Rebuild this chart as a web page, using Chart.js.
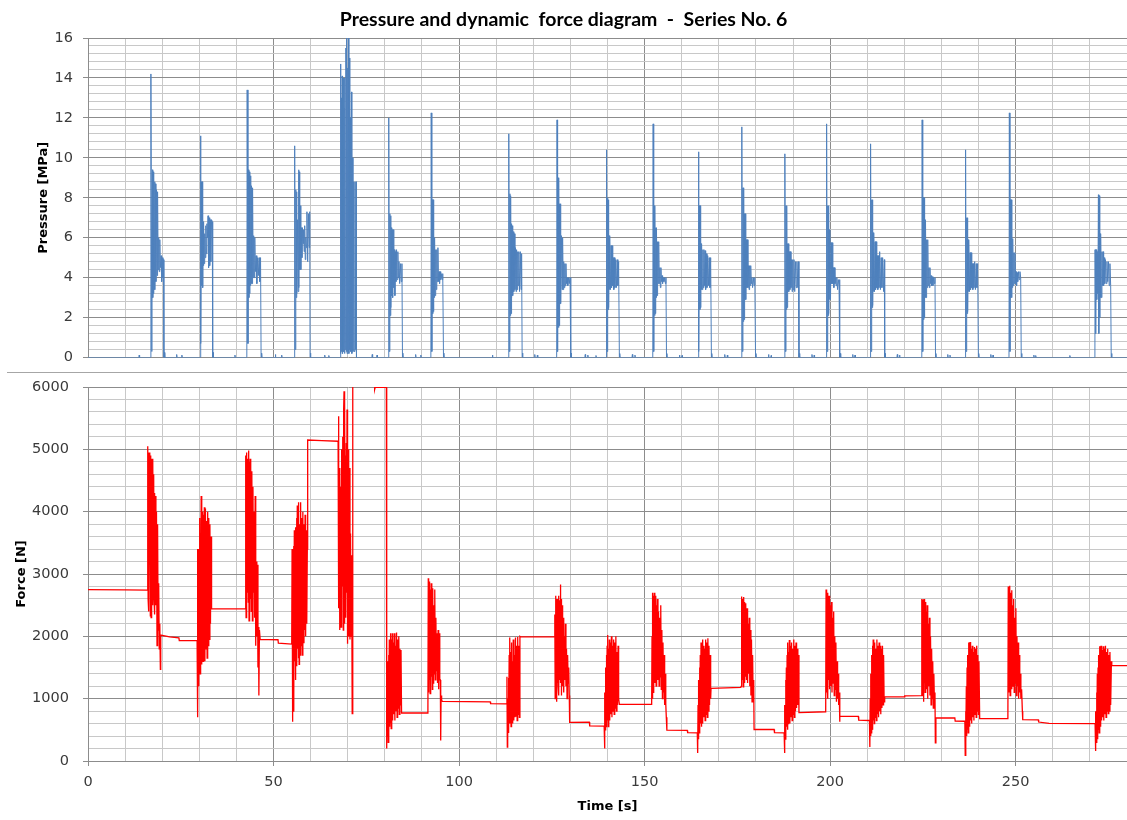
<!DOCTYPE html>
<html>
<head>
<meta charset="utf-8">
<title>Pressure and dynamic force diagram</title>
<script src="https://cdn.jsdelivr.net/npm/chart.js@4.4.1/dist/chart.umd.min.js"></script>
<style>
  html, body { margin: 0; padding: 0; background: #fff; }
  #page { position: relative; width: 1127px; height: 820px; overflow: hidden; }
  #top, #bottom { position: absolute; left: 0; width: 1127px; }
  #top { top: 0; height: 372px; }
  #bottom { top: 372px; height: 448px; }
  #sep { position: absolute; left: 7px; top: 372px; width: 1120px; height: 0; border-top: 1px solid #a6a6a6; }
</style>
</head>
<body>
<div id="page">
  <div id="top"><canvas id="pressureChart"></canvas></div>
  <div id="bottom"><canvas id="forceChart"></canvas></div>
  <div id="sep"></div>
</div>
<script>
// tick labels
const timeTicks = [0, 50, 100, 150, 200, 250];
const pressureTicks = [0, 2, 4, 6, 8, 10, 12, 14, 16];
const forceTicks = [0, 1000, 2000, 3000, 4000, 5000, 6000];

// pressure [s, MPa]
const pressureSeries = [
  [0,0],[13.7,0],[13.8,0.12],[13.9,0],[16.85,0],
  [16.95,14.2],[17.2,0.3],[17.35,9.4],[17.45,3.0],[17.55,9.3],[17.65,3.2],[17.75,9.0],[17.85,3.5],[17.95,8.8],[18.05,3.4],[18.15,8.7],[18.3,3.8],[18.45,8.4],[18.6,4.1],[18.75,8.3],[18.9,4.4],[19.05,6.0],[19.2,4.3],[19.35,5.9],[19.5,4.5],[19.7,5.1],[19.85,3.8],[20.0,5.0],[20.2,4.0],[20.35,4.9],[20.45,0],[20.6,0.25],[20.7,0],[23.8,0],[23.9,0.15],[24.0,0],[25.2,0],[25.3,0.12],[25.4,0],[30.2,0],
  [30.3,11.1],[30.45,0.7],[30.6,8.8],[30.7,3.6],[30.8,8.8],[30.9,3.5],[31.0,6.8],[31.1,4.6],[31.2,6.8],[31.3,4.7],[31.45,6.2],[31.6,5.0],[31.75,6.6],[31.9,5.2],[32.05,6.7],[32.2,6.0],[32.35,7.1],[32.5,4.5],[32.65,7.0],[32.8,4.6],[32.95,6.9],[33.1,4.8],[33.3,6.9],[33.5,6.8],[33.6,0],[33.7,0.25],[33.8,0],[39.5,0],[39.6,0.12],[39.7,0],[42.8,0],
  [42.9,13.4],[43.1,0.7],[43.25,9.4],[43.35,3.0],[43.45,9.3],[43.55,3.2],[43.65,9.1],[43.75,3.6],[43.85,9.1],[43.95,3.7],[44.05,8.6],[44.2,3.7],[44.35,8.5],[44.5,4.0],[44.65,6.1],[44.8,4.0],[44.95,6.0],[45.1,4.3],[45.3,5.1],[45.5,3.7],[45.7,5.0],[45.9,4.1],[46.1,5.0],[46.3,3.8],[46.5,5.0],[46.65,0],[46.8,0.22],[46.9,0],[50.4,0],[50.5,0.15],[50.6,0],[52.1,0],[52.2,0.12],[52.3,0],[55.6,0],
  [55.7,10.6],[55.85,0.4],[56.0,8.4],[56.1,3.0],[56.2,8.3],[56.3,3.2],[56.45,6.9],[56.6,3.3],[56.75,9.4],[56.85,3.5],[56.95,9.3],[57.05,4.4],[57.2,7.6],[57.35,4.4],[57.5,6.5],[57.65,5.0],[57.8,6.5],[57.95,5.7],[58.1,6.4],[58.25,5.3],[58.4,6.6],[58.55,4.9],[58.7,6.0],[58.85,5.5],[59.0,7.3],[59.2,4.8],[59.4,7.2],[59.6,5.5],[59.75,7.3],[59.85,0],[59.95,0.22],[60.05,0],[63.7,0],[63.8,0.12],[63.9,0],[64.8,0],[64.9,0.1],[65.0,0],[67.95,0],
  [68.05,14.7],[68.15,0.2],[68.3,13.0],[68.4,0.3],[68.5,14.1],[68.6,0.2],[68.75,14.0],[68.85,0.3],[69.0,12.5],[69.1,0.2],[69.25,14.0],[69.35,0.4],[69.5,15.5],[69.6,0.3],[69.7,17],[69.8,0.2],[69.95,14.5],[70.05,0.3],[70.2,17],[70.3,0.2],[70.45,15.0],[70.55,0.4],[70.7,12.0],[70.8,0.3],[71.0,13.3],[71.1,0.2],[71.3,10.0],[71.4,0.3],[71.6,8.8],[71.75,0.3],[71.95,8.8],[72.1,0.4],[72.25,8.8],[72.35,0],[76.5,0],[76.6,0.15],[76.7,0],[77.8,0],[77.9,0.12],[78.0,0],[80.95,0],
  [81.05,12.0],[81.2,0.3],[81.35,7.2],[81.45,2.1],[81.55,7.1],[81.65,2.5],[81.75,6.5],[81.85,3.1],[81.95,6.4],[82.1,3.0],[82.25,6.4],[82.4,3.5],[82.55,5.4],[82.7,3.1],[82.85,5.3],[83.0,3.8],[83.15,5.4],[83.3,3.9],[83.5,5.3],[83.65,4.0],[83.8,4.8],[84.0,3.7],[84.2,4.7],[84.4,3.8],[84.6,4.7],[84.75,0],[84.85,0.22],[84.95,0],[88.2,0],[88.3,0.15],[88.4,0],[89.6,0],[89.7,0.12],[89.8,0],[92.4,0],
  [92.5,12.25],[92.65,0.3],[92.8,7.9],[92.9,2.2],[93.0,7.9],[93.1,2.3],[93.2,6.0],[93.3,3.0],[93.4,6.0],[93.55,3.1],[93.7,5.4],[93.85,3.4],[94.0,5.4],[94.15,3.8],[94.3,5.5],[94.45,3.8],[94.6,4.3],[94.75,3.7],[94.9,4.3],[95.05,3.9],[95.2,4.2],[95.4,3.9],[95.6,4.2],[95.8,0],[95.9,0.22],[96.0,0],[108.9,0],[109.0,0.12],[109.1,0],[113.3,0],
  [113.4,11.2],[113.55,0.3],[113.7,8.2],[113.8,2.1],[113.9,8.1],[114.0,2.2],[114.1,6.7],[114.2,3.0],[114.3,6.6],[114.45,3.1],[114.6,6.3],[114.75,3.3],[114.9,6.2],[115.05,3.4],[115.2,5.5],[115.35,3.3],[115.5,5.4],[115.65,3.4],[115.8,5.3],[115.95,3.6],[116.1,5.3],[116.3,3.3],[116.5,5.3],[116.7,3.4],[116.85,5.2],[117.0,0],[117.1,0.22],[117.2,0],[120.3,0],[120.4,0.15],[120.5,0],[121.0,0],[121.1,0.12],[121.2,0],[126.3,0],
  [126.4,11.9],[126.55,0.3],[126.7,9.0],[126.8,1.5],[126.9,9.0],[127.0,1.6],[127.1,7.7],[127.2,2.7],[127.3,7.7],[127.45,2.7],[127.6,6.1],[127.75,3.4],[127.9,6.0],[128.05,3.4],[128.2,4.8],[128.35,3.5],[128.5,4.7],[128.65,3.6],[128.8,4.7],[128.95,3.7],[129.1,4.0],[129.3,3.6],[129.5,4.0],[129.7,3.7],[129.9,4.0],[130.1,0],[130.2,0.22],[130.3,0],[133.9,0],[134.0,0.15],[134.1,0],[134.6,0],[134.7,0.12],[134.8,0],[136.8,0],[136.9,0.1],[137.0,0],[139.65,0],
  [139.75,10.4],[139.9,0.3],[140.05,8.0],[140.15,2.4],[140.25,7.9],[140.35,2.5],[140.45,6.1],[140.55,3.4],[140.65,6.0],[140.8,3.4],[140.95,5.6],[141.1,3.5],[141.25,5.6],[141.4,3.6],[141.55,5.0],[141.7,3.4],[141.85,5.0],[142.0,3.5],[142.2,4.9],[142.4,3.5],[142.6,4.9],[142.8,3.6],[143.0,4.8],[143.2,0],[143.3,0.2],[143.4,0],[146.6,0],[146.7,0.15],[146.8,0],[147.3,0],[147.4,0.12],[147.5,0],[152.2,0],
  [152.3,11.7],[152.45,0.3],[152.6,7.6],[152.7,2.1],[152.8,7.6],[152.9,2.2],[153.0,6.5],[153.1,3.0],[153.2,6.5],[153.35,3.1],[153.5,5.8],[153.65,3.7],[153.8,5.8],[153.95,3.7],[154.1,4.5],[154.25,3.5],[154.4,4.5],[154.55,3.8],[154.7,4.1],[154.85,3.7],[155.0,4.0],[155.2,3.8],[155.4,4.0],[155.6,3.7],[155.75,4.0],[155.9,0],[156.0,0.2],[156.1,0],[159.3,0],[159.4,0.12],[159.5,0],[160.0,0],[160.1,0.1],[160.2,0],[164.4,0],
  [164.5,10.3],[164.65,0.3],[164.8,7.6],[164.9,2.4],[165.0,7.6],[165.1,2.5],[165.2,5.7],[165.3,3.4],[165.4,5.7],[165.55,3.4],[165.7,5.4],[165.85,3.5],[166.0,5.4],[166.15,3.6],[166.3,5.35],[166.45,3.4],[166.6,5.2],[166.8,3.5],[167.0,5.1],[167.2,3.6],[167.4,5.0],[167.6,3.5],[167.8,5.0],[168.0,0],[168.1,0.2],[168.2,0],[171.5,0],[171.6,0.15],[171.7,0],[172.2,0],[172.3,0.12],[172.4,0],[176.1,0],
  [176.2,11.55],[176.35,0.3],[176.5,8.5],[176.6,1.8],[176.7,8.5],[176.8,1.9],[176.9,7.2],[177.0,2.9],[177.1,7.2],[177.25,2.9],[177.4,5.9],[177.55,3.5],[177.7,5.9],[177.85,3.5],[178.0,4.6],[178.15,3.4],[178.3,4.6],[178.45,3.6],[178.6,4.6],[178.75,3.7],[178.9,4.0],[179.1,3.5],[179.3,4.0],[179.5,3.6],[179.7,4.0],[179.9,0],[180.0,0.2],[180.1,0],[183.3,0],[183.4,0.15],[183.5,0],[184.0,0],[184.1,0.1],[184.2,0],[187.7,0],
  [187.8,10.2],[187.95,0.3],[188.1,7.6],[188.2,2.4],[188.3,7.6],[188.4,2.5],[188.5,5.7],[188.6,3.3],[188.7,5.7],[188.85,3.3],[189.0,5.3],[189.15,3.4],[189.3,5.3],[189.45,3.5],[189.6,4.9],[189.75,3.3],[189.9,4.9],[190.05,3.4],[190.25,4.9],[190.45,3.3],[190.65,4.8],[190.85,3.5],[191.05,4.8],[191.3,3.5],[191.45,4.8],[191.6,0],[191.7,0.2],[191.8,0],[195.0,0],[195.1,0.15],[195.2,0],[195.6,0],[195.7,0.12],[195.8,0],[198.95,0],
  [199.05,11.7],[199.2,0.3],[199.35,7.6],[199.45,2.1],[199.55,7.6],[199.65,2.2],[199.75,6.4],[199.85,2.9],[199.95,6.4],[200.1,2.9],[200.25,5.75],[200.4,3.7],[200.55,5.75],[200.7,3.7],[200.85,4.5],[201.0,3.5],[201.15,4.5],[201.3,3.7],[201.45,4.0],[201.6,3.6],[201.8,4.0],[202.0,3.4],[202.2,3.9],[202.4,3.6],[202.5,3.9],[202.65,0],[202.75,0.2],[202.85,0],[206.0,0],[206.1,0.15],[206.2,0],[206.6,0],[206.7,0.12],[206.8,0],[210.8,0],
  [210.9,10.7],[211.05,0.3],[211.2,7.9],[211.3,2.5],[211.4,7.9],[211.5,2.6],[211.6,6.25],[211.7,3.3],[211.8,6.2],[211.95,3.3],[212.1,5.8],[212.25,3.4],[212.4,5.8],[212.55,3.5],[212.7,5.1],[212.85,3.4],[213.0,5.1],[213.15,3.5],[213.35,5.3],[213.55,3.4],[213.75,5.0],[213.95,3.5],[214.15,5.0],[214.4,3.3],[214.6,4.9],[214.7,0],[214.8,0.2],[214.9,0],[218.0,0],[218.1,0.15],[218.2,0],[218.6,0],[218.7,0.12],[218.8,0],[224.7,0],
  [224.8,11.9],[224.95,0.3],[225.1,8.0],[225.2,1.9],[225.3,8.0],[225.4,2.0],[225.5,6.9],[225.6,3.0],[225.7,6.9],[225.85,3.0],[226.0,5.9],[226.15,3.5],[226.3,5.9],[226.45,3.6],[226.6,4.5],[226.75,3.5],[226.9,4.5],[227.05,3.7],[227.2,4.1],[227.35,3.6],[227.5,4.05],[227.7,3.6],[227.9,4.0],[228.1,3.7],[228.25,4.0],[228.4,0],[228.5,0.2],[228.6,0],[231.6,0],[231.7,0.15],[231.8,0],[232.2,0],[232.3,0.12],[232.4,0],[236.4,0],
  [236.5,10.4],[236.65,0.3],[236.8,7.0],[236.9,2.2],[237.0,7.0],[237.1,2.3],[237.2,5.9],[237.3,3.3],[237.4,5.9],[237.55,3.3],[237.7,5.25],[237.85,3.4],[238.0,5.25],[238.15,3.5],[238.3,4.7],[238.45,3.4],[238.6,4.7],[238.75,3.5],[238.95,4.8],[239.15,3.4],[239.35,4.7],[239.55,3.5],[239.75,4.7],[239.95,0],[240.05,0.2],[240.15,0],[243.2,0],[243.3,0.15],[243.4,0],[243.8,0],[243.9,0.12],[244.0,0],[248.2,0],
  [248.3,12.25],[248.45,0.3],[248.6,7.9],[248.7,3.0],[248.8,7.9],[248.9,3.0],[249.0,6.0],[249.1,3.5],[249.2,5.95],[249.35,3.6],[249.5,5.25],[249.65,3.7],[249.8,5.25],[249.95,3.7],[250.1,4.3],[250.25,3.6],[250.4,4.25],[250.55,3.8],[250.75,4.3],[250.95,3.9],[251.15,4.3],[251.35,4.0],[251.5,0],[251.6,0.2],[251.7,0],[254.8,0],[254.9,0.12],[255.0,0],[255.3,0],[255.4,0.1],[255.5,0],[264.5,0],[264.6,0.1],[264.7,0],[271.35,0],
  [271.4,5.4],[271.55,1.2],[271.7,5.4],[271.85,2.9],[272.0,5.3],[272.15,3.2],[272.3,8.15],[272.4,1.2],[272.55,8.1],[272.65,2.0],[272.75,6.2],[272.85,3.0],[272.95,6.2],[273.1,3.0],[273.25,5.3],[273.4,3.6],[273.55,5.3],[273.7,3.6],[273.85,5.0],[274.0,3.7],[274.2,4.9],[274.4,3.7],[274.6,4.8],[274.8,3.8],[275.0,4.8],[275.2,3.6],[275.4,4.7],[275.6,3.6],[275.75,0],[275.85,0.2],[275.95,0],[280,0]
];

// force [s, N]
const forceSeries = [
  [0,2750],[10,2745],[16.0,2740],
  [16.1,5050],[16.2,2600],[16.3,4950],[16.4,2400],[16.5,4950],[16.6,3500],[16.7,4800],[16.8,2330],[16.9,4900],[17.0,2300],[17.1,4850],[17.2,3000],[17.3,4800],[17.4,2500],[17.5,4850],[17.6,2700],[17.7,4600],[17.8,2600],[17.9,4300],[18.0,2350],[18.15,4250],[18.3,2500],[18.45,4000],[18.6,1850],[18.75,3800],[18.9,2100],[19.05,2850],[19.2,1800],[19.35,2200],[19.5,1470],[19.6,2020],
  [22.0,1990],[24.5,1975],[24.6,1930],[29.4,1930],
  [29.5,3400],[29.6,700],[29.7,3000],[29.8,1200],[29.9,3400],[30.0,1450],[30.1,3900],[30.2,1400],[30.3,3600],[30.4,1650],[30.5,4250],[30.6,1550],[30.7,3900],[30.8,1700],[30.9,4000],[31.0,1600],[31.1,3950],[31.2,1750],[31.35,4070],[31.5,1600],[31.65,4050],[31.8,1800],[31.95,3850],[32.1,1650],[32.25,4000],[32.4,1850],[32.55,3900],[32.7,1950],[32.85,3800],[33.0,2200],[33.15,3600],[33.3,2440],
  [42.4,2440],
  [42.5,4900],[42.6,2300],[42.7,4950],[42.8,2650],[42.9,4850],[43.0,2700],[43.1,4700],[43.2,2550],[43.3,4980],[43.4,2250],[43.5,4800],[43.6,2300],[43.7,4850],[43.8,2600],[43.9,4700],[44.0,2400],[44.15,4650],[44.3,2250],[44.45,4400],[44.6,2700],[44.75,4000],[44.9,2300],[45.05,4250],[45.2,1850],[45.35,3200],[45.5,2000],[45.65,3150],[45.8,1500],[45.95,2150],[46.05,1050],[46.2,2100],[46.4,1950],
  [51.2,1945],[51.3,1890],[54.9,1875],
  [55.0,3400],[55.1,630],[55.2,2200],[55.3,800],[55.4,3450],[55.5,1000],[55.6,3700],[55.7,1600],[55.8,3550],[55.9,1300],[56.0,3750],[56.1,1700],[56.2,3900],[56.3,1520],[56.4,4100],[56.5,1800],[56.6,3700],[56.7,1650],[56.8,4150],[56.9,1550],[57.0,3800],[57.15,1700],[57.3,4150],[57.45,1850],[57.6,3900],[57.75,1700],[57.9,4000],[58.05,1900],[58.2,3800],[58.35,2100],[58.5,3950],[58.65,2000],[58.8,3700],[58.95,2200],[59.1,3400],[59.2,5150],
  [63.0,5140],[67.4,5130],
  [67.5,5530],[67.6,2450],[67.7,4700],[67.8,2100],[67.9,4650],[68.0,3300],[68.1,4400],[68.2,2150],[68.3,5000],[68.4,2900],[68.5,4700],[68.6,2800],[68.7,5200],[68.8,2100],[68.9,5650],[69.0,5930],[69.1,2200],[69.2,5800],[69.3,3100],[69.4,4900],[69.5,2300],[69.6,5100],[69.7,2700],[69.8,5640],[69.9,1880],[70.0,4700],[70.1,2100],[70.2,5000],[70.3,2000],[70.45,4700],[70.6,1950],[70.75,3650],[70.9,2000],[71.05,3300],[71.2,760],[71.3,1970],[71.4,7000],
  [77.1,7000],[77.2,5980],[77.3,5960],[77.4,5995],[80.4,5995],[80.5,200],
  [80.6,1600],[80.7,390],[80.8,1500],[80.9,300],[81.0,1700],[81.1,450],[81.2,1950],[81.3,550],[81.4,1800],[81.5,600],[81.6,2050],[81.7,520],[81.8,1950],[81.9,700],[82.0,2050],[82.1,650],[82.25,1900],[82.4,750],[82.55,2050],[82.7,650],[82.85,1850],[83.0,800],[83.15,2060],[83.3,700],[83.45,1950],[83.6,850],[83.75,2000],[83.9,750],[84.05,1800],[84.2,900],[84.35,1780],[84.5,770],
  [91.6,770],
  [91.7,2930],[91.8,1100],[91.9,2880],[92.0,1300],[92.1,2800],[92.2,1080],[92.3,2750],[92.4,1200],[92.5,2850],[92.6,1350],[92.7,2600],[92.8,1150],[92.9,2770],[93.0,1250],[93.15,2500],[93.3,1400],[93.45,2750],[93.6,1300],[93.75,2300],[93.9,1450],[94.05,2050],[94.2,1250],[94.35,2100],[94.5,1150],[94.65,2050],[94.8,1300],[94.95,1300],[95.05,330],[95.15,1050],[95.3,980],[95.5,955],
  [108.4,950],[108.5,920],[112.8,915],
  [112.9,1350],[113.0,225],[113.1,1000],[113.2,550],[113.3,1330],[113.4,450],[113.5,1700],[113.6,600],[113.7,1980],[113.8,650],[113.9,1750],[114.0,550],[114.1,1900],[114.2,700],[114.3,1600],[114.45,600],[114.6,1950],[114.75,650],[114.9,1700],[115.05,700],[115.2,1980],[115.35,720],[115.5,1850],[115.65,650],[115.8,1990],[115.95,750],[116.1,1850],[116.25,700],[116.4,2000],[116.6,1990],
  [125.7,1990],
  [125.8,2350],[125.9,1000],[126.0,2650],[126.1,1100],[126.2,2550],[126.3,950],[126.4,2600],[126.5,1250],[126.6,2500],[126.7,1200],[126.8,2650],[126.9,1050],[127.0,2580],[127.1,1300],[127.2,2400],[127.3,2830],[127.4,1250],[127.5,2600],[127.6,1050],[127.75,2500],[127.9,1200],[128.05,2300],[128.2,1100],[128.35,2000],[128.5,1300],[128.65,2200],[128.8,1200],[128.95,1800],[129.1,1000],[129.25,1700],[129.4,1250],[129.55,1500],[129.7,1050],[129.8,620],
  [135.1,625],[135.2,565],[139.1,560],
  [139.2,200],[139.3,1100],[139.4,500],[139.5,1500],[139.6,550],[139.7,1700],[139.8,600],[139.9,1850],[140.0,650],[140.1,2020],[140.2,550],[140.3,1800],[140.4,700],[140.5,1950],[140.6,650],[140.75,1900],[140.9,750],[141.05,2000],[141.2,700],[141.35,1850],[141.5,800],[141.65,1950],[141.8,750],[141.95,1900],[142.1,850],[142.25,2000],[142.4,800],[142.55,1750],[142.7,900],[142.85,1850],[143.0,1000],[143.2,910],
  [151.9,910],
  [152.0,2000],[152.1,1000],[152.2,2700],[152.3,1100],[152.4,2650],[152.5,1300],[152.6,2700],[152.7,1250],[152.8,2500],[152.9,1350],[153.0,2650],[153.1,1200],[153.2,2500],[153.3,1400],[153.45,2600],[153.6,1300],[153.75,2400],[153.9,1200],[154.05,2300],[154.2,1350],[154.35,2500],[154.5,1150],[154.65,2100],[154.8,1000],[154.95,1900],[155.1,1100],[155.25,1700],[155.4,900],[155.55,1400],[155.7,920],[155.85,700],[156.0,495],
  [161.5,490],[161.6,455],[164.2,450],
  [164.3,130],[164.4,900],[164.5,350],[164.6,1300],[164.7,450],[164.8,1500],[164.9,500],[165.0,1700],[165.1,600],[165.2,1900],[165.3,550],[165.4,1750],[165.5,650],[165.6,1950],[165.7,600],[165.85,1850],[166.0,700],[166.15,1800],[166.3,650],[166.45,1950],[166.6,750],[166.75,1900],[166.9,700],[167.05,1970],[167.2,800],[167.35,1850],[167.5,900],[167.65,1700],[167.8,1000],[167.9,1165],
  [175.9,1180],[176.0,1195],
  [176.1,2640],[176.2,1200],[176.3,2600],[176.4,1300],[176.5,2500],[176.6,1190],[176.7,2630],[176.8,1400],[176.9,2550],[177.0,1250],[177.1,2400],[177.2,1350],[177.3,2530],[177.45,1300],[177.6,2450],[177.75,1250],[177.9,2200],[178.05,1400],[178.2,2300],[178.35,1200],[178.5,2100],[178.65,1050],[178.8,1950],[178.95,950],[179.1,1700],[179.25,1000],[179.4,1300],[179.5,505],
  [184.9,505],[185.0,455],[187.6,450],
  [187.7,130],[187.8,900],[187.9,350],[188.0,1300],[188.1,450],[188.2,1500],[188.3,550],[188.4,1700],[188.5,500],[188.6,1900],[188.7,600],[188.8,1750],[188.9,650],[189.0,1940],[189.15,600],[189.3,1850],[189.45,700],[189.6,1900],[189.75,650],[189.9,1800],[190.05,750],[190.2,1950],[190.35,700],[190.5,1850],[190.65,800],[190.8,1900],[190.95,850],[191.1,1800],[191.3,900],[191.45,1700],[191.6,775],
  [198.8,790],
  [198.9,2750],[199.0,1100],[199.1,2650],[199.2,1250],[199.3,2700],[199.4,1000],[199.5,2600],[199.6,1300],[199.7,2650],[199.8,1150],[199.9,2580],[200.0,1350],[200.1,2500],[200.2,1200],[200.35,2550],[200.5,1100],[200.65,2300],[200.8,1250],[200.95,2400],[201.1,1050],[201.25,2000],[201.4,1150],[201.55,1900],[201.7,950],[201.85,1600],[202.0,1000],[202.15,1400],[202.3,900],[202.45,1100],[202.55,630],[202.65,720],
  [207.6,715],[207.7,655],[210.6,650],
  [210.7,225],[210.8,1000],[210.9,400],[211.0,1400],[211.1,450],[211.2,1700],[211.3,550],[211.4,1850],[211.5,500],[211.6,1950],[211.7,650],[211.8,1700],[211.9,600],[212.0,1900],[212.15,700],[212.3,1800],[212.45,650],[212.6,1950],[212.75,750],[212.9,1850],[213.05,700],[213.2,1900],[213.35,800],[213.5,1850],[213.65,750],[213.8,1800],[213.95,850],[214.1,1850],[214.25,900],[214.4,1700],[214.55,950],[214.7,1030],
  [220.0,1030],[220.1,1045],[224.6,1050],
  [224.7,2600],[224.8,1050],[224.9,2590],[225.0,1200],[225.1,2550],[225.2,950],[225.3,2600],[225.4,1250],[225.5,2450],[225.6,1100],[225.7,2550],[225.8,1300],[225.9,2400],[226.0,1150],[226.15,2500],[226.3,1000],[226.45,2200],[226.6,1200],[226.75,2300],[226.9,1050],[227.05,2000],[227.2,900],[227.35,1800],[227.5,1000],[227.65,1600],[227.8,850],[227.95,1400],[228.1,950],[228.25,1100],[228.35,290],[228.5,690],
  [233.6,690],[233.7,640],[236.3,638],
  [236.4,90],[236.5,800],[236.6,300],[236.7,1200],[236.8,400],[236.9,1500],[237.0,500],[237.1,1700],[237.2,450],[237.3,1900],[237.4,600],[237.5,1750],[237.6,550],[237.7,1910],[237.85,650],[238.0,1800],[238.15,600],[238.3,1850],[238.45,700],[238.6,1750],[238.75,650],[238.9,1830],[239.05,750],[239.2,1800],[239.35,700],[239.5,1850],[239.65,800],[239.8,1700],[239.95,750],[240.1,1600],[240.3,680],
  [247.9,680],
  [248.0,2800],[248.1,1100],[248.2,2750],[248.3,1250],[248.4,2810],[248.5,1050],[248.6,2700],[248.7,1300],[248.8,2600],[248.9,1150],[249.0,2740],[249.1,1350],[249.2,2500],[249.3,1200],[249.45,2600],[249.6,1100],[249.75,2300],[249.9,1250],[250.05,2450],[250.2,1050],[250.35,2000],[250.5,1200],[250.65,1900],[250.8,1000],[250.95,1700],[251.1,1100],[251.25,1400],[251.4,1000],[251.6,1150],[251.8,800],[251.9,665],
  [256.1,660],[256.2,625],[259.0,605],[271.4,600],
  [271.5,160],[271.6,800],[271.7,300],[271.8,1100],[271.9,400],[272.0,1400],[272.1,350],[272.2,1500],[272.3,500],[272.4,1700],[272.5,450],[272.6,1840],[272.7,600],[272.8,1750],[272.9,550],[273.0,1850],[273.15,650],[273.3,1780],[273.45,700],[273.6,1840],[273.75,650],[273.9,1800],[274.05,750],[274.2,1850],[274.35,700],[274.5,1750],[274.65,800],[274.8,1800],[274.95,760],[275.1,1700],[275.25,800],[275.4,1750],[275.6,900],[275.8,1600],[275.9,1530],
  [280,1530]
];

const tickFont = { family: 'DejaVu Sans', size: 14.5 };
const titleFont = { family: 'DejaVu Sans', size: 13, weight: 'bold' };
const majorGrid = '#8c8c8c';
const minorGrid = '#c8c8c8';

function isMajor(list, v) {
  return list.some(m => Math.abs(m - v) < 1e-6);
}

function xAxis(bottom) {
  return {
    type: 'linear',
    min: 0,
    max: 280,
    ticks: {
      display: bottom,
      stepSize: 10,
      autoSkip: false,
      maxRotation: 0,
      padding: 8,
      color: '#3a3a3a',
      font: tickFont,
      callback: v => isMajor(timeTicks, v) ? String(v) : ''
    },
    grid: {
      color: ctx => ctx.tick && isMajor(timeTicks, ctx.tick.value) ? majorGrid : minorGrid,
      tickLength: 5,
      tickColor: ctx => bottom && ctx.tick && isMajor(timeTicks, ctx.tick.value) ? majorGrid : 'rgba(0,0,0,0)'
    },
    border: { display: bottom, color: majorGrid },
    title: {
      display: bottom,
      text: 'Time [s]',
      color: '#000',
      font: titleFont,
      padding: { top: 0, bottom: 6 }
    },
    afterFit: s => {
      s.height = bottom ? 59 : 14.5;
      s.paddingLeft = 0;
      s.paddingRight = 0;
    }
  };
}

function yAxis(max, step, labels, text, labelGap, titleGap) {
  return {
    min: 0,
    max: max,
    ticks: {
      stepSize: step,
      autoSkip: false,
      padding: labelGap,
      color: '#3a3a3a',
      font: tickFont,
      callback: v => isMajor(labels, v) ? String(Math.round(v)) : ''
    },
    grid: {
      color: ctx => ctx.tick && isMajor(labels, ctx.tick.value) ? majorGrid : minorGrid,
      tickLength: 5,
      tickColor: ctx => ctx.tick && isMajor(labels, ctx.tick.value) ? majorGrid : 'rgba(0,0,0,0)'
    },
    border: { color: majorGrid },
    title: {
      display: true,
      text: text,
      color: '#000',
      font: titleFont,
      padding: { top: titleGap, bottom: 0 }
    },
    afterFit: s => {
      s.width = 88;
      s.paddingTop = 0;
      s.paddingBottom = 0;
    }
  };
}

// top: pressure
new Chart(document.getElementById('pressureChart'), {
  type: 'line',
  data: {
    datasets: [{
      label: 'Pressure',
      data: pressureSeries.map(p => ({ x: p[0], y: p[1] })),
      borderColor: '#4f81bd',
      borderWidth: 1,
      pointRadius: 0,
      tension: 0,
      clip: 0
    }]
  },
  options: {
    responsive: true,
    maintainAspectRatio: false,
    animation: false,
    events: [],
    layout: { padding: 0 },
    plugins: {
      legend: { display: false },
      tooltip: { enabled: false },
      title: {
        display: true,
        text: 'Pressure and dynamic  force diagram  -  Series No. 6',
        color: '#000',
        font: { family: 'Lato', size: 19.5, weight: 'bold' },
        padding: { top: 8, bottom: 6.6 }
      }
    },
    scales: {
      x: xAxis(false),
      y: yAxis(16, 0.4, pressureTicks, 'Pressure [MPa]', 10, 36)
    }
  }
});

// bottom: force
new Chart(document.getElementById('forceChart'), {
  type: 'line',
  data: {
    datasets: [{
      label: 'Force',
      data: forceSeries.map(p => ({ x: p[0], y: p[1] })),
      borderColor: '#ff0000',
      borderWidth: 1.3,
      pointRadius: 0,
      tension: 0,
      clip: 0
    }]
  },
  options: {
    responsive: true,
    maintainAspectRatio: false,
    animation: false,
    events: [],
    layout: { padding: { top: 15 } },
    plugins: {
      legend: { display: false },
      tooltip: { enabled: false }
    },
    scales: {
      x: xAxis(true),
      y: yAxis(6000, 200, forceTicks, 'Force [N]', 14, 14)
    }
  }
});
</script>
</body>
</html>
